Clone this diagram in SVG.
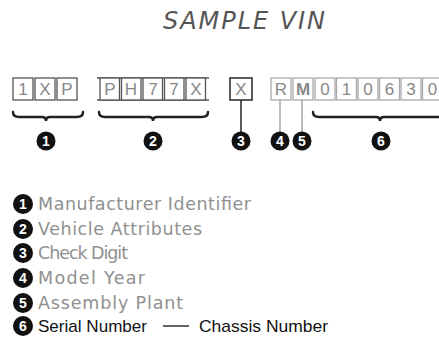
<svg xmlns="http://www.w3.org/2000/svg" width="439" height="337" viewBox="0 0 439 337">
<style>
.cell{fill:#fff;stroke:#555;stroke-width:1.3}
.lcell{fill:#fff;stroke:#aaa;stroke-width:1.3}
.ch{font-family:"Liberation Sans",Arial,sans-serif;font-size:17px;fill:#888;text-anchor:middle}
.br{fill:none;stroke:#222;stroke-width:2.5;stroke-linecap:round}
.dot{fill:#111}
.num{font-family:"Liberation Sans",Arial,sans-serif;font-weight:bold;font-size:14px;fill:#fff;text-anchor:middle}
.leg{font-family:"DejaVu Sans",sans-serif;font-size:17.5px;fill:#909090}
.leg2{font-family:"Liberation Sans",Arial,sans-serif;font-size:17px;fill:#111}
</style>
<text x="244" y="29" font-family="DejaVu Sans, sans-serif" font-style="italic" font-size="24" fill="#555" text-anchor="middle" textLength="162" lengthAdjust="spacing">SAMPLE VIN</text>

<g id="group1">
<rect class="cell" x="13" y="78" width="20" height="22"/>
<rect class="cell" x="35" y="78" width="20" height="22"/>
<rect class="cell" x="57" y="78" width="20" height="22"/>
<text class="ch" x="23" y="95">1</text>
<text class="ch" x="45" y="95">X</text>
<text class="ch" x="67" y="95">P</text>
</g>

<g id="group2">
<line x1="97" y1="78" x2="209" y2="78" stroke="#555" stroke-width="1.3"/>
<line x1="97" y1="100" x2="209" y2="100" stroke="#555" stroke-width="1.3"/>
<rect class="cell" x="100" y="78" width="19.5" height="22"/>
<rect class="cell" x="121.5" y="78" width="19.5" height="22"/>
<rect class="cell" x="143" y="78" width="19.5" height="22"/>
<rect class="cell" x="164.5" y="78" width="19.5" height="22"/>
<rect class="cell" x="186" y="78" width="19.5" height="22"/>
<text class="ch" x="110" y="95">P</text>
<text class="ch" x="131" y="95">H</text>
<text class="ch" x="153" y="95">7</text>
<text class="ch" x="174" y="95">7</text>
<text class="ch" x="196" y="95">X</text>
</g>

<g id="group3">
<rect x="230" y="78" width="22" height="22" fill="#fff" stroke="#333" stroke-width="1.6"/>
<text class="ch" x="241" y="95" fill="#555">X</text>
</g>

<g id="group456">
<rect class="lcell" x="271" y="78" width="20" height="22"/>
<rect class="lcell" x="293" y="78" width="20" height="22"/>
<rect class="lcell" x="315" y="78" width="20" height="22"/>
<rect class="lcell" x="336.5" y="78" width="20" height="22"/>
<rect class="lcell" x="358" y="78" width="20" height="22"/>
<rect class="lcell" x="379.5" y="78" width="20" height="22"/>
<rect class="lcell" x="401" y="78" width="20" height="22"/>
<rect class="lcell" x="422.5" y="78" width="20" height="22"/>
<text class="ch" x="281" y="95" fill="#aaa">R</text>
<text class="ch" x="303" y="95" fill="#222" font-weight="bold">M</text>
<text class="ch" x="325" y="95">0</text>
<text class="ch" x="346.5" y="95">1</text>
<text class="ch" x="368" y="95">0</text>
<text class="ch" x="389.5" y="95">6</text>
<text class="ch" x="411" y="95">3</text>
<text class="ch" x="432.5" y="95">0</text>
</g>

<g id="connectors">
<path class="br" d="M13,112 Q13,117 19,117 L42,117 Q46,117 46,121 Q46,117 50,117 L77,117 Q83,117 83,112"/>
<path class="br" d="M99,112 Q99,117 105,117 L149,117 Q153,117 153,121 Q153,117 157,117 L202,117 Q208,117 208,112"/>
<path class="br" d="M313,112 Q313,117 319,117 L376,117 Q380,117 380,121 Q380,117 384,117 L441,117 Q447,117 447,112"/>
<line x1="241" y1="100" x2="241" y2="132" stroke="#333" stroke-width="1.6"/>
<line x1="280" y1="100" x2="280" y2="132" stroke="#999" stroke-width="1.3"/>
<line x1="302" y1="100" x2="302" y2="132" stroke="#999" stroke-width="1.3"/>
</g>

<g id="n1"><circle class="dot" cx="46" cy="141" r="9.5"/><text class="num" x="46" y="146">1</text></g>
<g id="n2"><circle class="dot" cx="153" cy="141" r="9.5"/><text class="num" x="153" y="146">2</text></g>
<g id="n3"><circle class="dot" cx="241" cy="141" r="9.5"/><text class="num" x="241" y="146">3</text></g>
<g id="n4"><circle class="dot" cx="280" cy="141" r="9.5"/><text class="num" x="280" y="146">4</text></g>
<g id="n5"><circle class="dot" cx="302" cy="141" r="9.5"/><text class="num" x="302" y="146">5</text></g>
<g id="n6"><circle class="dot" cx="381" cy="141" r="9.5"/><text class="num" x="381" y="146">6</text></g>

<g id="legend">
<circle class="dot" cx="23" cy="204" r="10"/><text class="num" x="23" y="209">1</text>
<text class="leg" x="38" y="210" textLength="213" lengthAdjust="spacing">Manufacturer Identifier</text>
<circle class="dot" cx="23" cy="229" r="10"/><text class="num" x="23" y="234">2</text>
<text class="leg" x="38" y="235" textLength="164" lengthAdjust="spacing">Vehicle Attributes</text>
<circle class="dot" cx="23" cy="253" r="10"/><text class="num" x="23" y="258">3</text>
<text class="leg" x="38" y="259" textLength="90" lengthAdjust="spacing">Check Digit</text>
<circle class="dot" cx="23" cy="278" r="10"/><text class="num" x="23" y="283">4</text>
<text class="leg" x="38" y="284" textLength="107" lengthAdjust="spacing">Model Year</text>
<circle class="dot" cx="23" cy="303" r="10"/><text class="num" x="23" y="308">5</text>
<text class="leg" x="38" y="309" textLength="145" lengthAdjust="spacing">Assembly Plant</text>
<circle class="dot" cx="23" cy="326" r="10"/><text class="num" x="23" y="331">6</text>
<text class="leg2" x="38" y="332" textLength="109" lengthAdjust="spacingAndGlyphs">Serial Number</text>
<line x1="163" y1="326" x2="189" y2="326" stroke="#111" stroke-width="1.3"/>
<text class="leg2" x="199" y="332" textLength="129" lengthAdjust="spacingAndGlyphs">Chassis Number</text>
</g>
</svg>
